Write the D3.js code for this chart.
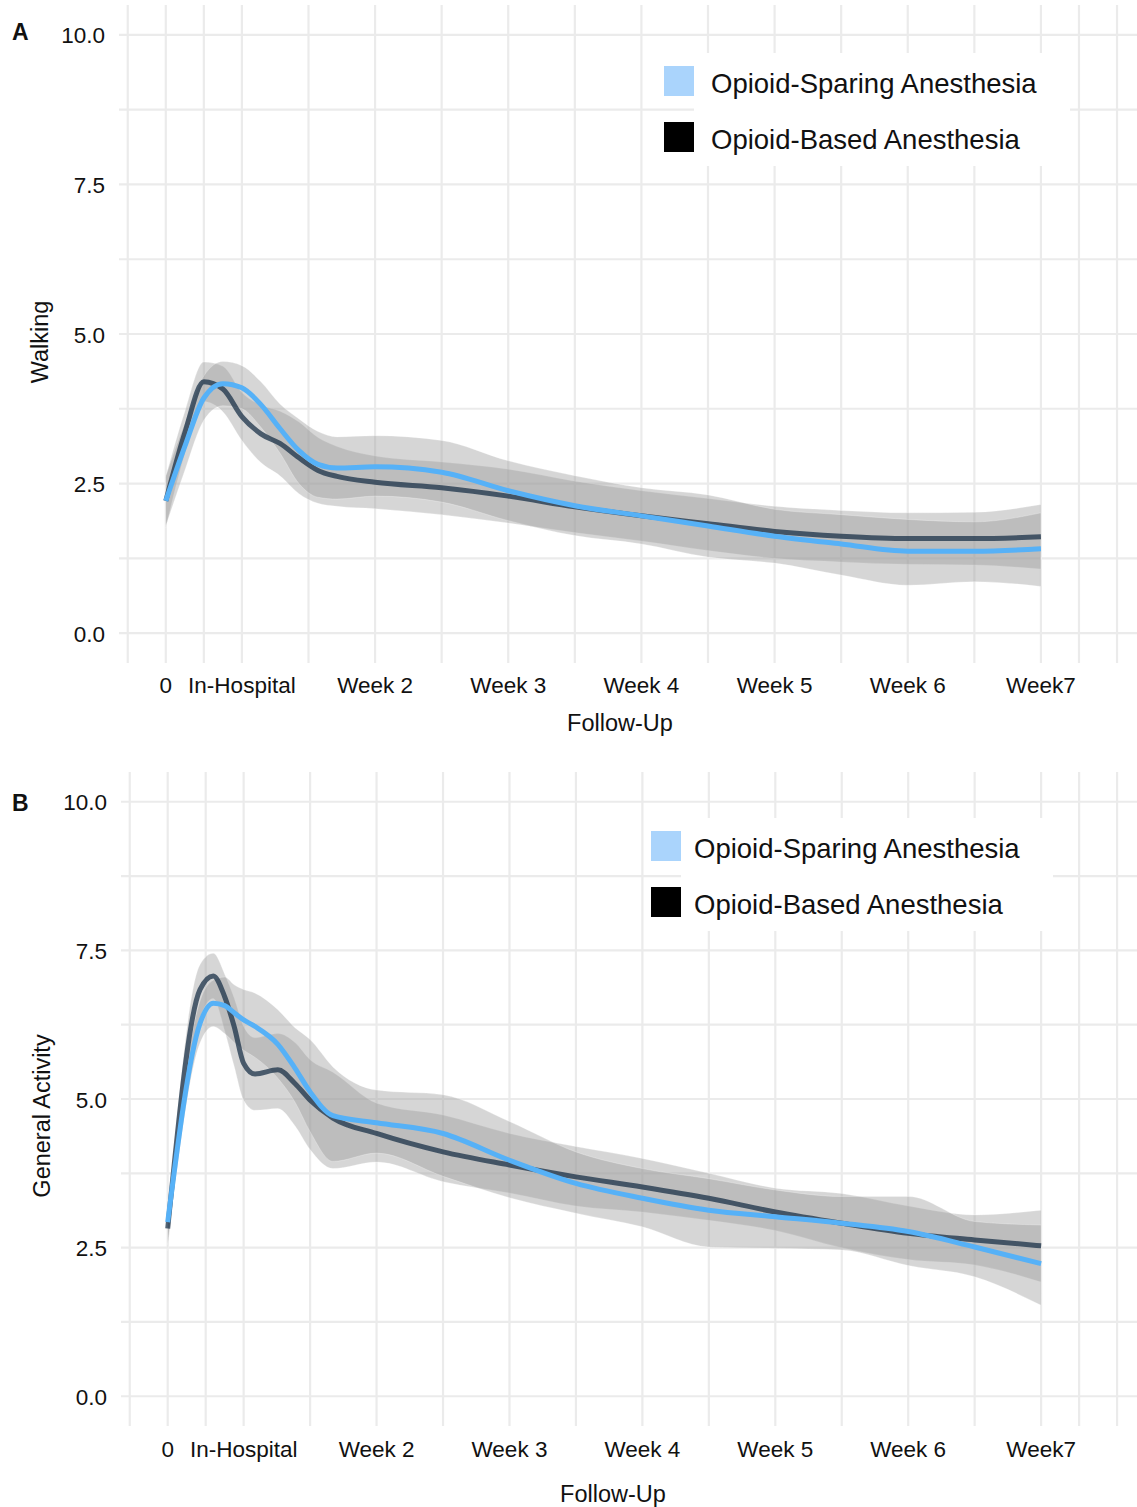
<!DOCTYPE html>
<html>
<head>
<meta charset="utf-8">
<script src="https://cdn.jsdelivr.net/npm/d3@7"></script>
<style>
    body { margin: 0; background: #fff; }
    text { font-family: "Liberation Sans", Arial, Helvetica, sans-serif; fill: #111; }
</style>
</head>
<body>
<script>

// x axis = follow-up day
var tickDays = [3, 7, 14, 21, 28, 35, 42, 49];
var tickLabels = ["0", "In-Hospital", "Week 2", "Week 3", "Week 4", "Week 5", "Week 6", "Week7"];
var minorDays = [1, 5, 10.5, 17.5, 24.5, 31.5, 38.5, 45.5, 51, 53];
var yTicks = [0, 2.5, 5, 7.5, 10];
var yMinor = [1.25, 3.75, 6.25, 8.75];
var groups = ["Opioid-Sparing Anesthesia", "Opioid-Based Anesthesia"];

// A - Walking
var daysA = [3, 4, 5, 6, 7, 8, 9, 10, 11, 12, 14, 17.5, 21, 24.5, 28, 31.5, 35, 38.5, 42, 45.5, 49];
var walkOSA     = [2.21, 3.12, 3.93, 4.17, 4.10, 3.82, 3.42, 3.05, 2.82, 2.76, 2.78, 2.69, 2.38, 2.13, 1.96, 1.79, 1.62, 1.49, 1.37, 1.37, 1.41];
var walkOSALow  = [1.79, 2.72, 3.56, 3.80, 3.75, 3.44, 3.01, 2.50, 2.27, 2.24, 2.29, 2.19, 1.88, 1.63, 1.49, 1.27, 1.17, 0.97, 0.80, 0.86, 0.78];
var walkOSAHigh = [2.63, 3.52, 4.30, 4.54, 4.47, 4.20, 3.83, 3.58, 3.37, 3.28, 3.30, 3.22, 2.88, 2.63, 2.43, 2.31, 2.07, 1.98, 1.90, 1.86, 2.01];
var walkOBA     = [2.21, 3.35, 4.20, 4.08, 3.62, 3.33, 3.17, 2.93, 2.72, 2.62, 2.52, 2.43, 2.29, 2.11, 1.96, 1.83, 1.70, 1.62, 1.58, 1.58, 1.61];
var walkOBALow  = [1.76, 3.00, 3.87, 3.70, 3.22, 2.85, 2.63, 2.33, 2.17, 2.12, 2.08, 1.98, 1.84, 1.68, 1.54, 1.38, 1.25, 1.19, 1.15, 1.14, 1.07];
var walkOBAHigh = [2.61, 3.70, 4.53, 4.46, 4.02, 3.81, 3.71, 3.53, 3.27, 3.12, 2.96, 2.86, 2.74, 2.54, 2.38, 2.25, 2.12, 2.05, 2.01, 2.02, 2.15];

// B - General Activity
var daysB = [3, 4.7, 5.4, 6, 6.5, 7, 7.6, 8.8, 9.7, 10.5, 11.7, 14, 17.5, 21, 24.5, 28, 31.5, 35, 38.5, 42, 45.5, 49];
var actOSA      = [2.93, 6.27, 6.61, 6.57, 6.45, 6.33, 6.22, 5.92, 5.52, 5.12, 4.72, 4.60, 4.42, 3.97, 3.58, 3.33, 3.13, 3.02, 2.91, 2.77, 2.51, 2.23];
var actOSALow   = [2.55, 5.94, 6.22, 6.10, 5.95, 5.82, 5.70, 5.35, 4.95, 4.45, 3.95, 4.09, 3.70, 3.34, 3.08, 2.85, 2.51, 2.49, 2.46, 2.20, 2.01, 1.53];
var actOSAHigh  = [3.10, 6.65, 7.00, 7.05, 6.92, 6.84, 6.78, 6.50, 6.20, 6.00, 5.54, 5.15, 5.07, 4.62, 4.11, 3.83, 3.66, 3.47, 3.36, 3.36, 2.94, 2.88];
var actOBA      = [2.82, 6.84, 7.07, 6.72, 6.22, 5.60, 5.42, 5.49, 5.26, 4.98, 4.68, 4.42, 4.11, 3.89, 3.69, 3.52, 3.33, 3.10, 2.91, 2.74, 2.63, 2.53];
var actOBALow   = [2.45, 6.35, 6.69, 6.15, 5.55, 4.98, 4.81, 4.84, 4.55, 4.15, 3.83, 3.94, 3.61, 3.42, 3.20, 3.10, 2.96, 2.79, 2.50, 2.30, 2.21, 1.92];
var actOBAHigh  = [3.05, 7.26, 7.45, 7.10, 6.70, 6.22, 6.03, 6.10, 5.95, 5.66, 5.45, 4.93, 4.73, 4.42, 4.20, 4.00, 3.75, 3.50, 3.41, 3.20, 3.05, 3.13];

var colOSA = "#56B1F7",
    colOBA = "#132B43",
    keyOSA = "#aad4fc",
    keyOBA = "#000000";

var svg = d3.select("body").append("svg")
    .attr("width", 1137)
    .attr("height", 1507);

var panels = [
    {tag: "A", title: "Walking", days: daysA,
        osa: [walkOSA, walkOSALow, walkOSAHigh], oba: [walkOBA, walkOBALow, walkOBAHigh],
        left: 119, right: 1137, top: 5, bottom: 663, tickRight: 105,
        tickBase: 693, xTitleX: 620, xTitleBase: 731, yTitleX: 48, yTitleY: 342, tagBase: 40,
        keyX: 664, keyY: 66, textX: 711, box: [694, 53, 1070, 166]},
    {tag: "B", title: "General Activity", days: daysB,
        osa: [actOSA, actOSALow, actOSAHigh], oba: [actOBA, actOBALow, actOBAHigh],
        left: 121, right: 1137, top: 772, bottom: 1426, tickRight: 107,
        tickBase: 1457, xTitleX: 613, xTitleBase: 1502, yTitleX: 50, yTitleY: 1116, tagBase: 811,
        keyX: 651, keyY: 831, textX: 694, box: [681, 818, 1053, 931]}
];

panels.forEach(drawPanel);

function drawPanel(p) {
    var x = d3.scaleLinear().domain([0.54, 54.05]).range([p.left, p.right]);
    var y = d3.scaleLinear().domain([-0.5, 10.5]).range([p.bottom, p.top]);
    var g = svg.append("g");

    // grid
    g.selectAll(".hgrid")
        .data(yTicks.concat(yMinor))
        .enter().append("line")
        .attr("x1", p.left).attr("x2", p.right)
        .attr("y1", function(d) { return y(d); })
        .attr("y2", function(d) { return y(d); })
        .attr("stroke", "#ebebeb")
        .attr("stroke-width", 2.2);
    g.selectAll(".vgrid")
        .data(tickDays.concat(minorDays))
        .enter().append("line")
        .attr("y1", p.top).attr("y2", p.bottom)
        .attr("x1", function(d) { return x(d); })
        .attr("x2", function(d) { return x(d); })
        .attr("stroke", "#ebebeb")
        .attr("stroke-width", 2.2);

    // ribbons
    var ribbon = function(s) {
        return d3.area()
            .x(function(d, i) { return x(p.days[i]); })
            .y0(function(d, i) { return y(s[1][i]); })
            .y1(function(d, i) { return y(s[2][i]); })
            .curve(d3.curveMonotoneX)(s[0]);
    };
    [p.oba, p.osa].forEach(function(s) {
        g.append("path")
            .attr("d", ribbon(s))
            .attr("fill", "#999999")
            .attr("fill-opacity", 0.4)
            .attr("stroke", "#ffffff")
            .attr("stroke-opacity", 0.25)
            .attr("stroke-width", 1);
    });

    var line = d3.line()
        .x(function(d, i) { return x(p.days[i]); })
        .y(function(d) { return y(d); })
        .curve(d3.curveMonotoneX);

    g.append("path")
        .attr("d", line(p.oba[0]))
        .attr("fill", "none")
        .attr("stroke", colOBA)
        .attr("stroke-opacity", 0.72)
        .attr("stroke-width", 5);
    g.append("path")
        .attr("d", line(p.osa[0]))
        .attr("fill", "none")
        .attr("stroke", colOSA)
        .attr("stroke-width", 5);

    // axes text
    g.selectAll(".ytick")
        .data(yTicks)
        .enter().append("text")
        .attr("x", p.tickRight)
        .attr("y", function(d) { return y(d) + 8.5; })
        .attr("text-anchor", "end")
        .style("font-size", "22.5px")
        .text(function(d) { return d3.format(".1f")(d); });
    g.selectAll(".xtick")
        .data(tickDays)
        .enter().append("text")
        .attr("x", function(d) { return x(d); })
        .attr("y", p.tickBase)
        .attr("text-anchor", "middle")
        .style("font-size", "22.5px")
        .text(function(d, i) { return tickLabels[i]; });

    g.append("text")
        .attr("x", p.xTitleX).attr("y", p.xTitleBase)
        .attr("text-anchor", "middle")
        .style("font-size", "23.5px")
        .text("Follow-Up");
    g.append("text")
        .attr("transform", "translate(" + p.yTitleX + "," + p.yTitleY + ") rotate(-90)")
        .attr("text-anchor", "middle")
        .style("font-size", "23.5px")
        .text(p.title);
    g.append("text")
        .attr("x", 12).attr("y", p.tagBase)
        .style("font-size", "23px")
        .style("font-weight", "bold")
        .text(p.tag);

    // legend
    g.append("rect")
        .attr("x", p.box[0]).attr("y", p.box[1])
        .attr("width", p.box[2] - p.box[0])
        .attr("height", p.box[3] - p.box[1])
        .attr("fill", "#fff");
    var keys = g.selectAll(".key")
        .data(groups)
        .enter().append("g")
        .attr("transform", function(d, i) { return "translate(0," + (p.keyY + i * 56) + ")"; });
    keys.append("rect")
        .attr("x", p.keyX).attr("y", 0)
        .attr("width", 30).attr("height", 30)
        .attr("fill", function(d, i) { return i === 0 ? keyOSA : keyOBA; });
    keys.append("text")
        .attr("x", p.textX).attr("y", 26.5)
        .style("font-size", "27.5px")
        .text(function(d) { return d; });
}

</script>
</body>
</html>
